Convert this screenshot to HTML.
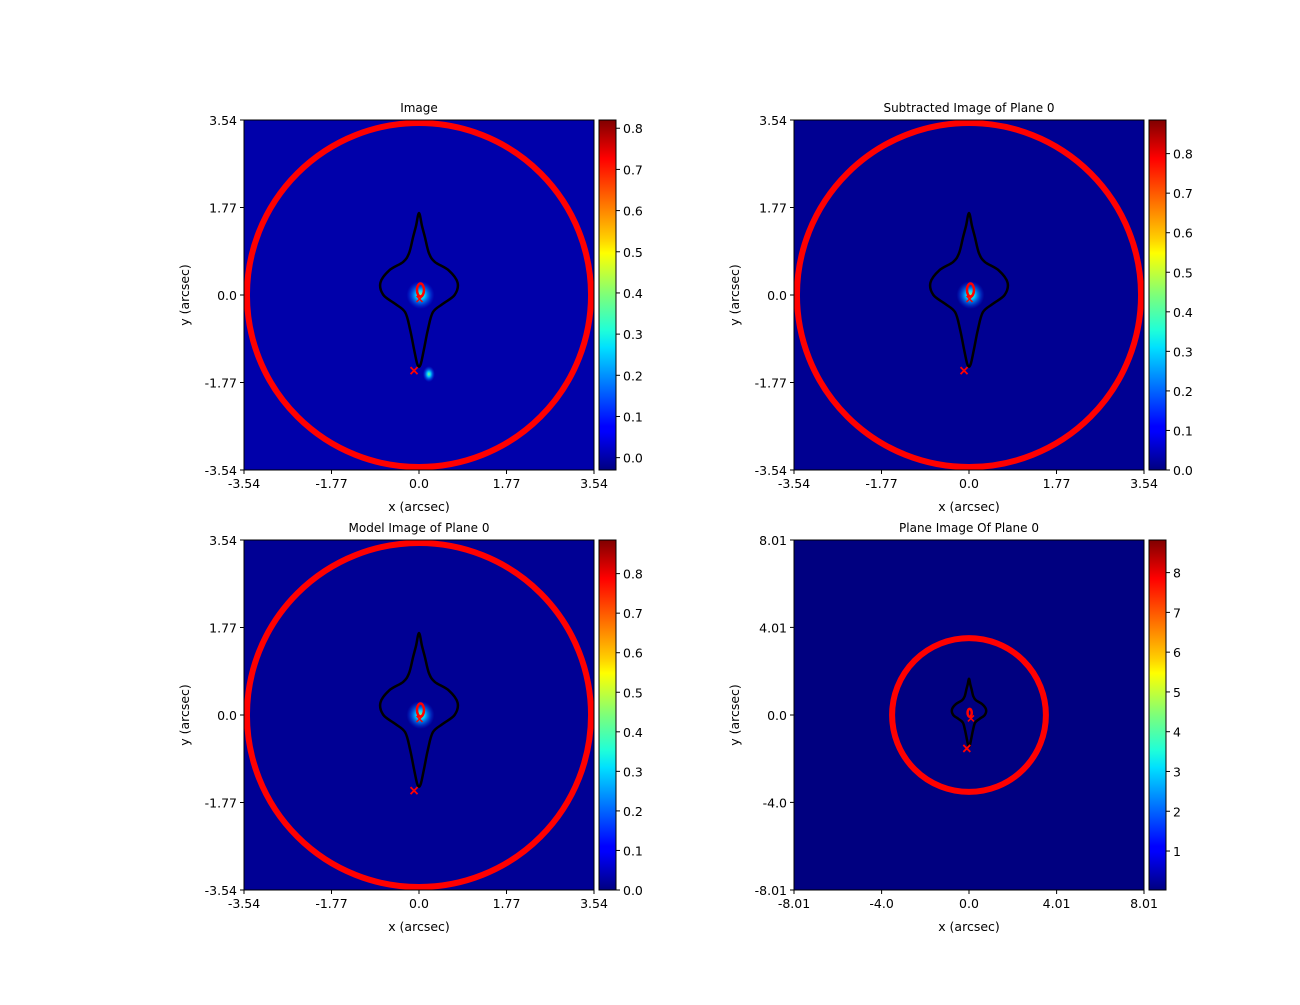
<!DOCTYPE html>
<html><head><meta charset="utf-8"><style>
body{margin:0;background:#fff;}
svg text{font-family:"DejaVu Sans","Liberation Sans",sans-serif;fill:#000;}
</style></head><body>
<svg id="fig" width="1300" height="1000" xmlns="http://www.w3.org/2000/svg">
<defs>
<linearGradient id="jet" x1="0" y1="1" x2="0" y2="0">
<stop offset="0" stop-color="#000080"/><stop offset="0.11" stop-color="#0000ff"/>
<stop offset="0.125" stop-color="#0000ff"/><stop offset="0.35" stop-color="#00e0ff"/>
<stop offset="0.4" stop-color="#20ffd8"/><stop offset="0.5" stop-color="#7dff7a"/>
<stop offset="0.62" stop-color="#ffff00"/><stop offset="0.66" stop-color="#ffd000"/>
<stop offset="0.89" stop-color="#ff0000"/><stop offset="1" stop-color="#800000"/>
</linearGradient>
<radialGradient id="blob"><stop offset="0" stop-color="#80ff80"/><stop offset="0.3" stop-color="#00d0ff"/><stop offset="1" stop-color="#0040ff" stop-opacity="0"/></radialGradient>
</defs>
</svg>
<script>
const panelTitles = ["Image","Subtracted Image of Plane 0","Model Image of Plane 0","Plane Image Of Plane 0"];
const panelExtent = [3.54,3.54,3.54,8.01];
const xTickLabels = [["-3.54","-1.77","0.0","1.77","3.54"],["-3.54","-1.77","0.0","1.77","3.54"],["-3.54","-1.77","0.0","1.77","3.54"],["-8.01","-4.0","0.0","4.01","8.01"]];
const xTickValues = [[-3.54,-1.77,0,1.77,3.54],[-3.54,-1.77,0,1.77,3.54],[-3.54,-1.77,0,1.77,3.54],[-8.01,-4.0,0,4.01,8.01]];
const cbMin = [-0.03,0.0,0.0,0.02];
const cbMax = [0.82,0.885,0.885,8.82];
const cbTicks = [[0.0,0.1,0.2,0.3,0.4,0.5,0.6,0.7,0.8],[0.0,0.1,0.2,0.3,0.4,0.5,0.6,0.7,0.8],[0.0,0.1,0.2,0.3,0.4,0.5,0.6,0.7,0.8],[1,2,3,4,5,6,7,8]];
const bgColor = ["#0000aa","#000092","#000094","#000080"];
const borderRadius = [3.48,3.48,3.48,3.52];
const criticalCurve = [[0,1.66],[0.06,1.4],[0.12,1.17],[0.2,0.85],[0.32,0.67],[0.6,0.5],[0.78,0.25],[0.72,0.0],[0.48,-0.18],[0.28,-0.35],[0.18,-0.7],[0.1,-1.1],[0.04,-1.38],[0,-1.45],[-0.04,-1.38],[-0.1,-1.1],[-0.18,-0.7],[-0.28,-0.35],[-0.48,-0.18],[-0.72,0.0],[-0.78,0.25],[-0.6,0.5],[-0.32,0.67],[-0.2,0.85],[-0.12,1.17],[-0.06,1.4]];
const crossPos = [-0.1,-1.53];
const sourcePos = [0.03,0.1];
const panels=[[244,120],[794,120],[244,540],[794,540]];
const W=350;
const NS="http://www.w3.org/2000/svg";
const svg=document.getElementById('fig');
function mk(t,a,p){const e=document.createElementNS(NS,t);for(const k in a)e.setAttribute(k,a[k]);(p||svg).appendChild(e);return e;}
function txt(x,y,s,anchor,size,p){const e=mk('text',{x:x,y:y,'text-anchor':anchor,'font-size':size},p);e.textContent=s;return e;}
panels.forEach((pp,i)=>{
 const [X,Y]=pp;const ext=panelExtent[i];
 const sx=v=>X+W/2+v/ext*W/2, sy=v=>Y+W/2-v/ext*W/2, sc=W/2/ext;
 const g=mk('g',{});
 
 
 const bg=mk('rect',{x:X,y:Y,width:W,height:W,fill:bgColor[i]},g);
 
 
 if(i<3){const bl=mk('circle',{cx:sx(sourcePos[0]),cy:sy(sourcePos[1]-0.1),r:14,fill:'url(#blob)'},g);
  
  }
 if(i==0){const b2=mk('ellipse',{cx:sx(0.2),cy:sy(-1.6),rx:6,ry:8,fill:'url(#blob)'},g);
  
  }
 const c=mk('circle',{cx:sx(0),cy:sy(0),r:borderRadius[i]*sc,fill:'none',stroke:'#ff0000','stroke-width':6},g);
 
 
 let d='';const pts=criticalCurve.map(p=>[sx(p[0]),sy(p[1])]);const n=pts.length;
 d='M'+pts[0].join(',');
 for(let k=0;k<n;k++){const p0=pts[(k-1+n)%n],p1=pts[k],p2=pts[(k+1)%n],p3=pts[(k+2)%n];
  d+=' C'+(p1[0]+(p2[0]-p0[0])/6)+','+(p1[1]+(p2[1]-p0[1])/6)+' '+(p2[0]-(p3[0]-p1[0])/6)+','+(p2[1]-(p3[1]-p1[1])/6)+' '+p2[0]+','+p2[1];}
 const cc=mk('path',{d:d+'Z',fill:'none',stroke:'#000','stroke-width':2.5},g);
 
 
 const sr=i==3?3:5;
 const src=mk('ellipse',{cx:sx(sourcePos[0]),cy:sy(sourcePos[1]),rx:sr*0.7,ry:sr*1.3,fill:'none',stroke:'#ff0000','stroke-width':2.5},g);
 
 
 const cx0=sx(crossPos[0]),cy0=sy(crossPos[1]);
 const cr=mk('path',{d:`M${cx0-3.5},${cy0-3.5}L${cx0+3.5},${cy0+3.5}M${cx0-3.5},${cy0+3.5}L${cx0+3.5},${cy0-3.5}`,stroke:'#ff0000','stroke-width':1.8},g);
 
 
 const ca=mk('path',{d:`M${sx(-0.05)},${sy(-0.02)}l6,6m0,-6l-6,6`,stroke:'#ff0000','stroke-width':1.5},g);
 
 
 mk('rect',{x:X,y:Y,width:W,height:W,fill:'none',stroke:'#000','stroke-width':1},g);
 const tt=txt(X+W/2,Y-8,panelTitles[i],'middle',12,g);
 
 
 xTickValues[i].forEach((v,k)=>{
  mk('line',{x1:sx(v),y1:Y+W,x2:sx(v),y2:Y+W+4,stroke:'#000'},g);
  const xt=txt(sx(v),Y+W+18,xTickLabels[i][k],'middle',12.5,g);
  
  
  mk('line',{x1:X-4,y1:sy(v),x2:X,y2:sy(v),stroke:'#000'},g);
  const yt=txt(X-7,sy(v)+5,xTickLabels[i][k],'end',12.5,g);
  
  
 });
 const xl=txt(X+W/2,Y+W+41,'x (arcsec)','middle',12.5,g);
 
 
 const yl=txt(0,0,'y (arcsec)','middle',12.5,g);
 yl.setAttribute('transform',`translate(${X-55},${Y+W/2}) rotate(-90)`);
 
 
 const CX=X+W+5,CW=17;
 const cb=mk('rect',{x:CX,y:Y,width:CW,height:W,fill:'url(#jet)',stroke:'#000','stroke-width':1},g);
 
 
 const cy=v=>Y+W-(v-cbMin[i])/(cbMax[i]-cbMin[i])*W;
 cbTicks[i].forEach(v=>{
  mk('line',{x1:CX+CW,y1:cy(v),x2:CX+CW+4,y2:cy(v),stroke:'#000'},g);
  const ct=txt(CX+CW+7,cy(v)+5,i==3?String(v):v.toFixed(1),'start',12.5,g);
  
  
 });
});
</script>
</body></html>
